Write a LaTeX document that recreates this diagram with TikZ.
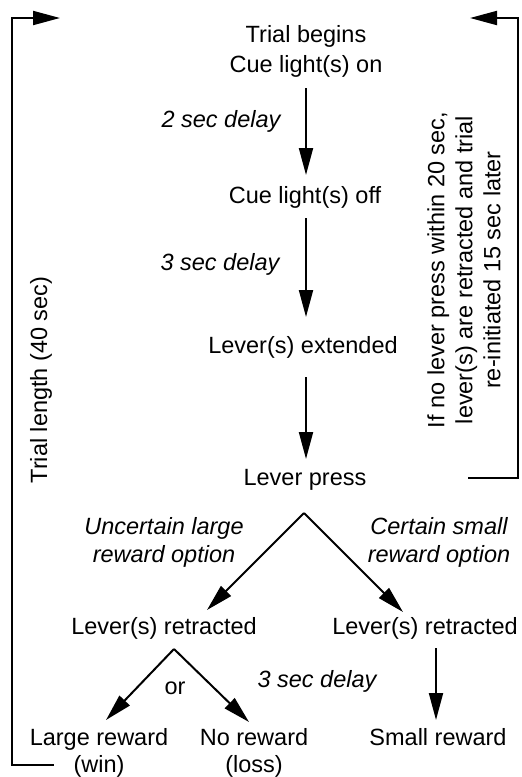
\documentclass[tikz,border=0pt]{standalone}
\usepackage{fontspec}
\setmainfont{Liberation Sans}
\usetikzlibrary{arrows.meta}

\tikzset{
  lbl/.style={inner sep=0pt, anchor=base, font=\fontsize{23.5}{28}\selectfont},
  note/.style={lbl, font=\fontsize{23.5}{28}\selectfont\itshape},
  line/.style={line width=2pt, line cap=rect},
  arr/.style={line width=2pt, -{Triangle[length=27pt,width=14pt]}},
}

\begin{document}
\begin{tikzpicture}[x=1pt,y=-1pt]
\useasboundingbox (0,0) rectangle (522,777);

% --- main sequence ---
\node[lbl] (begin)  at (306,42)  {Trial begins};
\node[lbl] (cueon)  at (306,72)  {Cue light(s) on};
\node[note] (d2)    at (221,127) {2 sec delay};
\node[lbl] (cueoff) at (305,203) {Cue light(s) off};
\node[note] (d3)    at (220,270) {3 sec delay};
\node[lbl] (ext)    at (303,353) {Lever(s) extended};
\node[lbl] (press)  at (305,485) {Lever press};

\coordinate (a1s) at (306,88);  \coordinate (a1e) at (306,175);
\coordinate (a2s) at (306,218); \coordinate (a2e) at (306,317);
\coordinate (a3s) at (306,377); \coordinate (a3e) at (306,459);
\draw[arr] (a1s) -- (a1e);
\draw[arr] (a2s) -- (a2e);
\draw[arr] (a3s) -- (a3e);

% --- choice between the two options (base = last line) ---
\node[note, align=center] (unc) at (164,562) {Uncertain large\\reward option};
\node[note, align=center] (cer) at (439,562) {Certain small\\reward option};

\coordinate (apex) at (304,513);
\coordinate (tipL) at (207,610);
\coordinate (tipR) at (403,612);
\draw[arr] (apex) -- (tipL);
\draw[arr] (apex) -- (tipR);

\node[lbl] (retL) at (164,634) {Lever(s) retracted};
\node[lbl] (retR) at (425,634) {Lever(s) retracted};

% --- outcomes ---
\coordinate (apex2) at (174,649);
\coordinate (tipW)  at (106,720);
\coordinate (tipN)  at (249,722);
\draw[arr] (apex2) -- (tipW);
\draw[arr] (apex2) -- (tipN);
\node[lbl] (or) at (175,694) {or};

\node[note] (d3b) at (317,687) {3 sec delay};
\coordinate (a4s) at (436,648); \coordinate (a4e) at (436,720);
\draw[arr] (a4s) -- (a4e);

\node[lbl, align=center, font=\fontsize{23.5}{27}\selectfont] (large) at (99,772) {Large reward\\(win)};
\node[lbl, align=center, font=\fontsize{23.5}{27}\selectfont] (none)  at (254,772) {No reward\\(loss)};
\node[lbl] (small) at (438,745) {Small reward};

% --- trial length bracket (left) ---
\coordinate (lt) at (12,18);
\coordinate (lb) at (12,765);
\coordinate (lte) at (60,18);
\coordinate (lbe) at (53,765);
\draw[line] (lbe) -- (lb) -- (lt);
\draw[arr] (lt) -- (lte);
\node[lbl, anchor=center, rotate=90] (tlen) at (41,380) {Trial length (40 sec)};

% --- no-press return bracket (right) ---
\coordinate (rt) at (518,18);
\coordinate (rb) at (518,478);
\coordinate (rte) at (470,18);
\coordinate (rbe) at (469,478);
\draw[line] (rbe) -- (rb) -- (rt);
\draw[arr] (rt) -- (rte);
\node[lbl, anchor=center, rotate=90, align=center] (retry) at (464,270)
  {If no lever press within 20 sec,\\lever(s) are retracted and trial\\re-initiated 15 sec later};
\end{tikzpicture}
\end{document}
